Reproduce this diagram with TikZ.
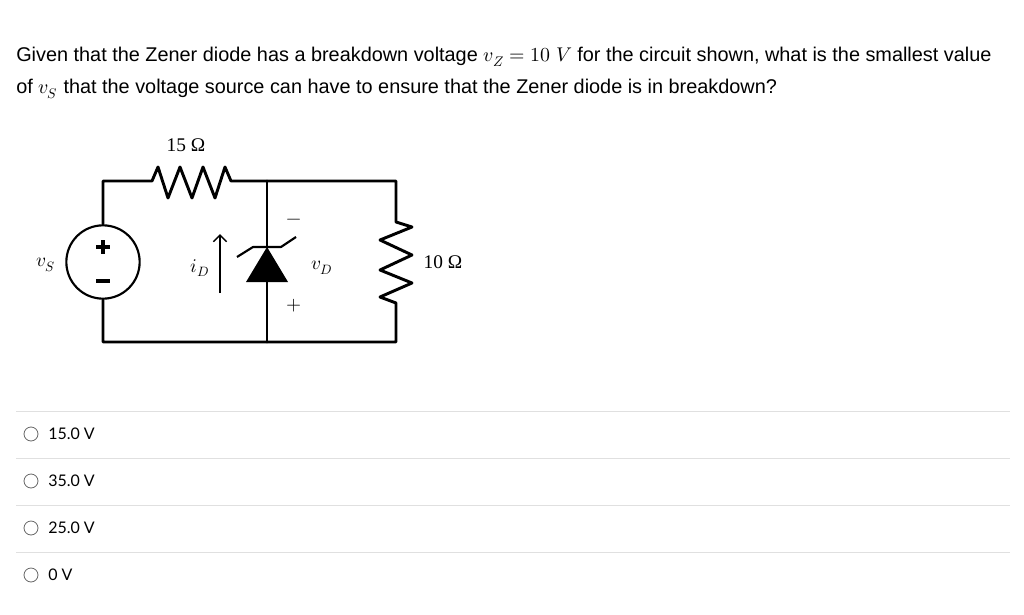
\documentclass[tikz,border=0pt]{standalone}
\usetikzlibrary{arrows.meta}
\usepackage{fontspec}
\setmainfont{Liberation Serif}
\newfontfamily\qfont{Liberation Sans}
\newfontfamily\cfont{Lato}
\usepackage{unicode-math}
\begin{document}
\begin{tikzpicture}[x=0.75pt,y=-0.75pt,
  wire/.style={line width=2.2pt,line cap=round,line join=round},
  sep/.style={draw=black!12,line width=0.6pt},
  radio/.style={circle,draw=black!60,line width=0.6pt,minimum size=10.5pt,inner sep=0pt},
  choice/.style={anchor=west,font=\cfont\fontsize{12}{14}\selectfont,inner sep=0pt},
  lbl/.style={font=\fontsize{14.5}{16}\selectfont,inner sep=0pt}]
\useasboundingbox (0,0) rectangle (1024,614);
\node[anchor=west,inner sep=0pt,font=\qfont\fontsize{14.9}{17}\selectfont] (q1) at (16,57) {Given that the Zener diode has a breakdown voltage $v_Z=10\ V$ for the circuit shown, what is the smallest value};
\node[anchor=west,inner sep=0pt,font=\qfont\fontsize{14.9}{17}\selectfont] (q2) at (16,89) {of $v_S$ that the voltage source can have to ensure that the Zener diode is in breakdown?};
% circuit coordinates
\coordinate (tl) at (103,181); \coordinate (tm) at (267,181); \coordinate (tr) at (396,181);
\coordinate (bl) at (103,342); \coordinate (bm) at (267,342); \coordinate (br) at (396,342);
\node[circle,draw,line width=1.6pt,minimum size=55pt,inner sep=0pt] (src) at (103,262) {};
\draw[wire] (src.north) -- (tl) -- (152,181) -- (158,167) -- (168,198) -- (180,167) -- (192,198) -- (203,167) -- (215,198) -- (225,167) -- (231,181) -- (tm) -- (tr) -- (396,222)
  -- (412,227) -- (380,240) -- (412,255) -- (380,270) -- (412,283) -- (380,297) -- (396,303) -- (br) -- (bm) -- (bl) -- (src.south);
\draw[line width=2.6pt] (103,240) -- (103,254) (96,247) -- (110,247) (96,281) -- (110,281);
\draw[wire] (tm) -- (267,247) (267,282) -- (bm);
\fill (267,247) -- (288,282) -- (246,282) -- cycle;
\draw[line width=1.6pt,line join=round] (237,257) -- (253,247) -- (281,247) -- (296,237);
\draw[line width=1.1pt,-{Straight Barb[length=5pt]}] (220,293) -- (220,234);
\node[lbl] (vs) at (46,265) {$v_S$};
\node[lbl] (r1) at (186,145) {15 Ω};
\node[lbl] (r2) at (443,262) {10 Ω};
\node[lbl] (id) at (200,268) {$i_D$};
\node[lbl] (vd) at (322,268) {$v_D$};
\node[lbl] (mn) at (294,222) {$-$};
\node[lbl] (pl) at (294,306) {$+$};
% choices
\foreach \y in {411,458,505,552} \draw[sep] (16,\y) -- (1010,\y);
\foreach \y/\t [count=\i] in {434/15.0 V,481/35.0 V,528/25.0 V,575/0 V}{
  \node[radio] (r\i) at (31,\y) {};
  \node[choice] (c\i) at (48,\y) {\t};}
\end{tikzpicture}
\end{document}
